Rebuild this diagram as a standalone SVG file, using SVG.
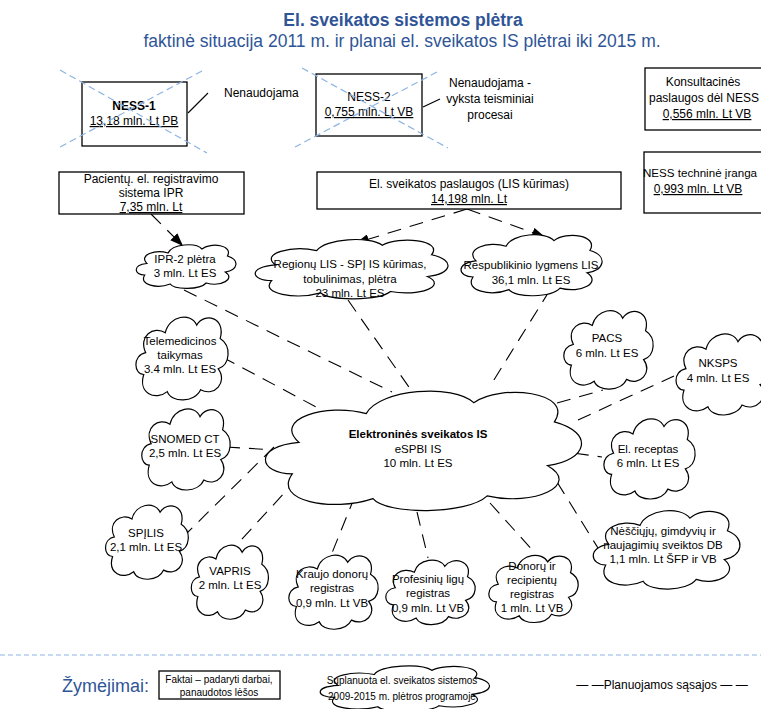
<svg xmlns="http://www.w3.org/2000/svg" width="761" height="709" viewBox="0 0 761 709">
<style>
text{font-family:"Liberation Sans",Arial,sans-serif;fill:#000}
.t{font-size:12px;text-anchor:middle}
.c{font-size:11.5px;text-anchor:middle}
.u{text-decoration:underline}
.b{font-weight:bold}
.box{fill:#fff;stroke:#000;stroke-width:1.3}
.cloud{fill:#fff;stroke:#000;stroke-width:1.2}
.dash{fill:none;stroke:#000;stroke-width:1.1;stroke-dasharray:14 9}
.x{stroke:#8DB4E2;stroke-width:1.2;stroke-dasharray:7 4;fill:none}
.blue{fill:#2F5597}
.ttl{text-anchor:middle;font-size:17.5px}
.lg{font-size:10px;text-anchor:middle}
</style>
<defs>
<path id="cl" vector-effect="non-scaling-stroke" d="M12,70 C2,70 0,50 14,47 C6,30 22,18 34,26 C38,8 60,4 66,18 C74,4 96,10 90,32 C102,40 100,60 88,64 C98,78 84,94 70,86 C64,100 40,100 36,88 C24,98 6,90 12,70 Z"/>
<marker id="ah" markerUnits="userSpaceOnUse" markerWidth="13" markerHeight="10" refX="13" refY="5" orient="auto"><path d="M0,0 L13,5 L0,10 Z" fill="#000"/></marker>
</defs>

<g id="title">
<text class="ttl blue b" x="403" y="26">El. sveikatos sistemos plėtra</text>
<text class="ttl blue" x="402" y="47">faktinė situacija 2011 m. ir planai el. sveikatos IS plėtrai iki 2015 m.</text>
</g>

<g id="connectors">
<line stroke="#000" stroke-width="1.1" x1="188" y1="113" x2="208" y2="93"/>
<line stroke="#000" stroke-width="1.1" x1="423" y1="107" x2="440" y2="99"/>
<line class="dash" x1="151" y1="214" x2="183" y2="246" marker-end="url(#ah)"/>
<line class="dash" x1="467" y1="209" x2="356" y2="243" marker-end="url(#ah)"/>
<line class="dash" x1="467" y1="209" x2="545" y2="237" marker-end="url(#ah)"/>
<line class="dash" x1="184" y1="290" x2="392" y2="392"/>
<line class="dash" x1="348" y1="300" x2="418" y2="400"/>
<line class="dash" x1="222" y1="357" x2="320" y2="409"/>
<line class="dash" x1="550" y1="290" x2="492" y2="383"/>
<line class="dash" x1="557" y1="403" x2="603" y2="390"/>
<line class="dash" x1="578" y1="420" x2="674" y2="376"/>
<line class="dash" x1="552" y1="450" x2="602" y2="457"/>
<line class="dash" x1="557" y1="482" x2="598" y2="548"/>
<line class="dash" x1="490" y1="503" x2="535" y2="553"/>
<line class="dash" x1="417" y1="512" x2="428" y2="558"/>
<line class="dash" x1="355" y1="496" x2="332" y2="553"/>
<line class="dash" x1="298" y1="478" x2="232" y2="550"/>
<line class="dash" x1="274" y1="447" x2="184" y2="536"/>
<line class="dash" x1="226" y1="447" x2="276" y2="450"/>
</g>

<g id="ness1">
<rect class="box" x="82" y="82" width="105" height="64"/>
<text class="t b" x="134" y="110">NESS-1</text>
<text class="t u" x="134" y="125">13,18 mln. Lt PB</text>
<line class="x" x1="60" y1="70" x2="207" y2="153"/>
<line class="x" x1="202" y1="71" x2="60" y2="147"/>
</g>
<g id="nenaudojama1"><text x="224" y="97" font-size="12">Nenaudojama</text></g>

<g id="ness2">
<rect class="box" x="316" y="74" width="106" height="62"/>
<text class="t" x="369" y="101">NESS-2</text>
<text class="t u" x="369" y="116">0,755 mln. Lt VB</text>
<line class="x" x1="302" y1="68" x2="448" y2="148"/>
<line class="x" x1="437" y1="72" x2="295" y2="147"/>
</g>
<g id="nenaudojama2">
<text class="t" x="490" y="87">Nenaudojama -</text>
<text class="t" x="490" y="103">vyksta teisminiai</text>
<text class="t" x="490" y="119">procesai</text>
</g>

<g id="konsultacines">
<rect class="box" x="645" y="68" width="125" height="62"/>
<text class="t" x="703" y="86">Konsultacinės</text>
<text class="t" x="704" y="102">paslaugos dėl NESS</text>
<text class="t u" x="707" y="118">0,556 mln. Lt VB</text>
</g>

<g id="ness-iranga">
<rect class="box" x="644" y="152" width="125" height="61"/>
<text class="t" x="700" y="177" style="font-size:11.6px">NESS techninė įranga</text>
<text class="t u" x="698" y="193">0,993 mln. Lt VB</text>
</g>

<g id="ipr">
<rect class="box" x="59" y="172" width="185" height="42"/>
<text class="t" x="151" y="183">Pacientų. el. registravimo</text>
<text class="t" x="151" y="197">sistema IPR</text>
<text class="t u" x="151" y="211">7,35 mln. Lt</text>
</g>

<g id="lis">
<rect class="box" x="317" y="172" width="304" height="37"/>
<text class="t" x="469" y="188">El. sveikatos paslaugos (LIS kūrimas)</text>
<text class="t u" x="469" y="203">14,198 mln. Lt</text>
</g>

<g id="ipr2">
<use href="#cl" class="cloud" transform="translate(132,240) scale(1.06,0.5)"/>
<text class="c" x="185" y="263">IPR-2 plėtra</text>
<text class="c" x="185" y="277">3 mln. Lt ES</text>
</g>

<g id="regionu">
<use href="#cl" class="cloud" transform="translate(247,233) scale(2.05,0.68)"/>
<text class="c" x="350" y="268">Regionų LIS  - SPĮ IS kūrimas,</text>
<text class="c" x="350" y="283">tobulinimas, plėtra</text>
<text class="c" x="350" y="297">23 mln. Lt ES</text>
</g>

<g id="respublikinio">
<use href="#cl" class="cloud" transform="translate(455,228) scale(1.5,0.7)"/>
<text class="c" x="531" y="269">Respublikinio lygmens LIS</text>
<text class="c" x="531" y="284">36,1 mln. Lt ES</text>
</g>

<g id="telemedicina">
<use href="#cl" class="cloud" transform="translate(132,308) scale(0.98,0.95)"/>
<text class="c" x="180" y="345">Telemedicinos</text>
<text class="c" x="180" y="359">taikymas</text>
<text class="c" x="180" y="373">3.4 mln. Lt ES</text>
</g>

<g id="snomed">
<use href="#cl" class="cloud" transform="translate(138,400) scale(0.94,0.93)"/>
<text class="c" x="185" y="443">SNOMED CT</text>
<text class="c" x="185" y="457">2,5 mln. Lt ES</text>
</g>

<g id="espbi">
<use href="#cl" class="cloud" transform="translate(252,378) scale(3.36,1.37)"/>
<text class="c b" x="418" y="438">Elektroninės sveikatos IS</text>
<text class="c" x="418" y="453">eSPBI IS</text>
<text class="c" x="418" y="467">10 mln. Lt ES</text>
</g>

<g id="pacs">
<use href="#cl" class="cloud" transform="translate(560,302) scale(0.95,0.9)"/>
<text class="c" x="607" y="342">PACS</text>
<text class="c" x="607" y="357">6 mln. Lt ES</text>
</g>

<g id="nksps">
<use href="#cl" class="cloud" transform="translate(672,325) scale(1.0,0.93)"/>
<text class="c" x="718" y="367">NKSPS</text>
<text class="c" x="718" y="382">4 mln. Lt ES</text>
</g>

<g id="receptas">
<use href="#cl" class="cloud" transform="translate(600,410) scale(0.97,0.92)"/>
<text class="c" x="648" y="453">El. receptas</text>
<text class="c" x="648" y="467">6 mln. Lt ES</text>
</g>

<g id="nesciuju">
<use href="#cl" class="cloud" transform="translate(587,502) scale(1.56,0.9)"/>
<text class="c" x="663" y="535">Nėščiųjų, gimdyvių ir</text>
<text class="c" x="663" y="549">naujagimių sveiktos DB</text>
<text class="c" x="663" y="563">1,1 mln. Lt ŠFP ir VB</text>
</g>

<g id="donoru">
<use href="#cl" class="cloud" transform="translate(485,548) scale(0.95,0.77)"/>
<text class="c" x="532" y="570">Donorų ir</text>
<text class="c" x="532" y="584">recipientų</text>
<text class="c" x="532" y="598">registras</text>
<text class="c" x="532" y="612">1 mln. Lt VB</text>
</g>

<g id="profesiniu">
<use href="#cl" class="cloud" transform="translate(382,553) scale(0.95,0.74)"/>
<text class="c" x="428" y="583">Profesinių ligų</text>
<text class="c" x="428" y="597">registras</text>
<text class="c" x="428" y="612">0,9 mln. Lt VB</text>
</g>

<g id="kraujo">
<use href="#cl" class="cloud" transform="translate(285,547) scale(0.95,0.85)"/>
<text class="c" x="332" y="578">Kraujo donorų</text>
<text class="c" x="332" y="592">registras</text>
<text class="c" x="332" y="607">0,9 mln. Lt VB</text>
</g>

<g id="vapris">
<use href="#cl" class="cloud" transform="translate(188,537) scale(0.82,0.85)"/>
<text class="c" x="230" y="575">VAPRIS</text>
<text class="c" x="230" y="589">2 mln. Lt ES</text>
</g>

<g id="spjlis">
<use href="#cl" class="cloud" transform="translate(102,497) scale(0.88,0.85)"/>
<text class="c" x="146" y="537">SPĮLIS</text>
<text class="c" x="146" y="551">2,1 mln. Lt ES</text>
</g>

<g id="legend">
<line x1="0" y1="655" x2="761" y2="655" stroke="#8DB4E2" stroke-width="1.2" stroke-dasharray="5 3"/>
<text class="blue" x="62" y="692" font-size="18">Žymėjimai:</text>
<rect class="box" x="159" y="671" width="121" height="28" stroke-width="1"/>
<text class="lg" x="219" y="683">Faktai – padaryti darbai,</text>
<text class="lg" x="219" y="696">panaudotos lėšos</text>
<use href="#cl" class="cloud" transform="translate(313,661) scale(1.8,0.52)"/>
<text class="lg" x="402" y="684">Suplanuota el. sveikatos sistemos</text>
<text class="lg" x="402" y="700">2009-2015 m. plėtros programoje</text>
<text class="lg" x="662" y="689" style="font-size:12px">— —Planuojamos sąsajos — —</text>
</g>
</svg>
